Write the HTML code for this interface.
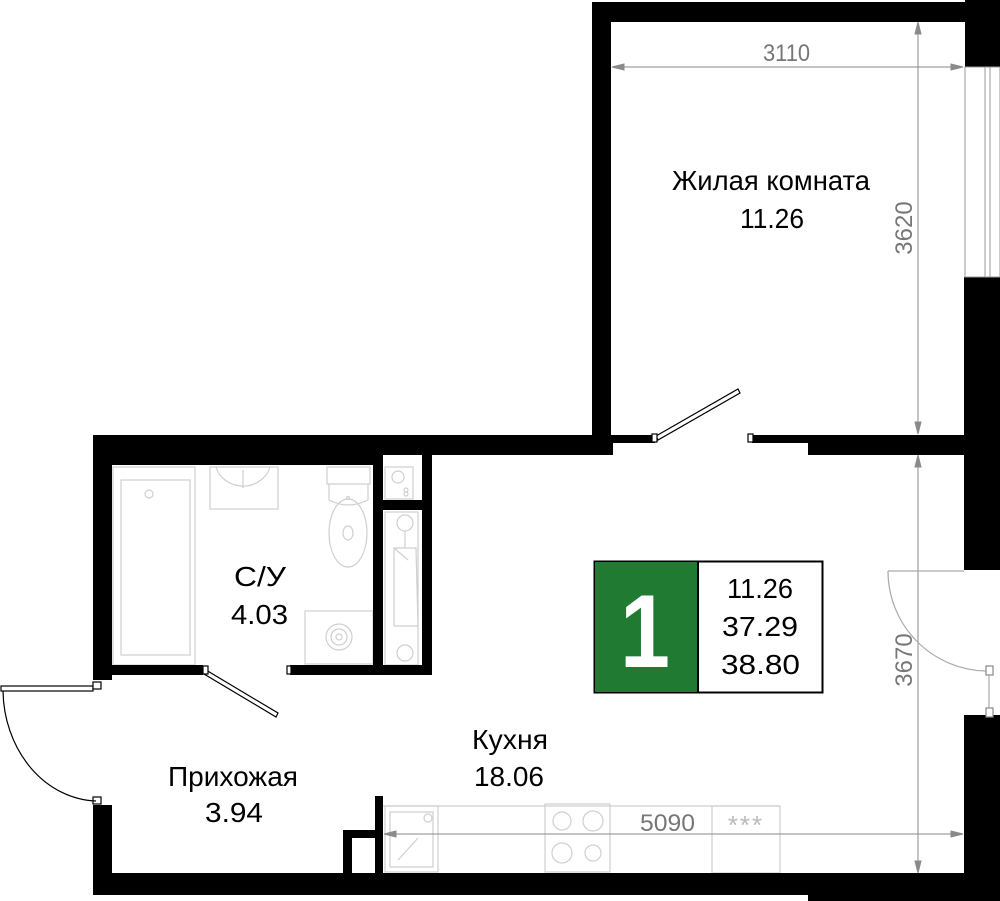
<!DOCTYPE html>
<html><head><meta charset="utf-8"><style>
html,body{margin:0;padding:0;background:#fff;}
svg{display:block;}
text{font-family:"Liberation Sans",sans-serif;}
</style></head><body>
<svg width="1000" height="901" viewBox="0 0 1000 901" xmlns="http://www.w3.org/2000/svg">
<rect width="1000" height="901" fill="#fff"/>
<!-- fixtures (light gray) -->
<g fill="none" stroke="#cfcfcf" stroke-width="1.2">
  <rect x="113" y="467" width="82" height="198"/>
  <rect x="121" y="480" width="69" height="175"/>
  <circle cx="149" cy="494" r="4"/>
  <rect x="210" y="467" width="68" height="42"/>
  <path d="M216 467 A28 26 0 0 0 270 467"/>
  <line x1="243" y1="470" x2="243" y2="488"/>
  <rect x="327" y="467" width="43" height="17"/>
  <path d="M329 484 L329 500 Q348 510 368 500 L368 484"/>
  <ellipse cx="348" cy="533" rx="19" ry="34"/>
  <circle cx="348" cy="498" r="1.5"/>
  <ellipse cx="348" cy="533" rx="5" ry="7"/>
  <rect x="305" y="611" width="68" height="53"/>
  <circle cx="339" cy="637" r="13"/><circle cx="339" cy="637" r="8"/><circle cx="339" cy="637" r="3"/>
  <rect x="385" y="467" width="28" height="32"/>
  <circle cx="398" cy="477" r="6"/><circle cx="406" cy="490" r="2"/><circle cx="406" cy="494" r="2"/>
  <rect x="385" y="512" width="33" height="153"/>
  <circle cx="405" cy="523" r="8"/><circle cx="405" cy="653" r="8"/>
  <line x1="405" y1="531" x2="405" y2="548"/>
  <polygon points="394,548 416,548 418,626 394,626"/>
  <line x1="394" y1="548" x2="408" y2="560"/>
  <rect x="385" y="806" width="53" height="66"/>
  <rect x="390" y="812" width="43" height="55"/>
  <circle cx="428" cy="818" r="4"/>
  <line x1="398" y1="860" x2="418" y2="838"/>
  <rect x="545" y="804" width="65" height="68"/>
  <circle cx="562" cy="821" r="9"/><circle cx="593" cy="821" r="10"/><circle cx="562" cy="853" r="10"/><circle cx="593" cy="853" r="8"/>
  <rect x="712" y="806" width="68" height="67"/>
  <line x1="383" y1="806" x2="780" y2="806"/>
</g>
<text x="746" y="834" text-anchor="middle" fill="#bbb" font-size="26" letter-spacing="2">***</text>
<!-- dimension lines -->
<g stroke="#8a8a8a" stroke-width="1" fill="#8a8a8a">
  <line x1="612" y1="67" x2="963" y2="67"/>
  <polygon points="612,67 624,64 624,70"/><polygon points="963,67 951,64 951,70"/>
  <line x1="918" y1="22" x2="918" y2="434"/>
  <polygon points="918,22 915,34 921,34"/><polygon points="918,434 915,422 921,422"/>
  <line x1="918" y1="455" x2="918" y2="873"/>
  <polygon points="918,455 915,467 921,467"/><polygon points="918,873 915,861 921,861"/>
  <line x1="384" y1="834" x2="963" y2="834"/>
  <polygon points="384,834 396,831 396,837"/><polygon points="963,834 951,831 951,837"/>
</g>
<g fill="#777" font-size="24">
  <text x="763" y="61" textLength="47" lengthAdjust="spacingAndGlyphs">3110</text>
  <text x="640" y="831" textLength="55" lengthAdjust="spacingAndGlyphs">5090</text>
  <text transform="translate(912,228) rotate(-90)" text-anchor="middle">3620</text>
  <text transform="translate(912,660) rotate(-90)" text-anchor="middle">3670</text>
</g>
<!-- walls -->
<g fill="#000">
  <rect x="592" y="2" width="373" height="20"/>
  <rect x="592" y="2" width="19" height="453"/>
  <rect x="965" y="0" width="35" height="67"/>
  <rect x="964" y="277" width="36" height="293"/>
  <rect x="964" y="715" width="36" height="186"/>
  <rect x="592" y="435" width="63" height="8"/>
  <rect x="752" y="435" width="56" height="8"/>
  <rect x="808" y="435" width="157" height="20"/>
  <rect x="93" y="435" width="520" height="20"/>
  <rect x="93" y="435" width="19" height="245"/>
  <rect x="93" y="455" width="280" height="10"/>
  <rect x="112" y="665" width="91" height="10"/>
  <rect x="290" y="665" width="142" height="10"/>
  <rect x="373" y="455" width="10" height="220"/>
  <rect x="422" y="455" width="10" height="220"/>
  <rect x="383" y="500" width="39" height="10"/>
  <rect x="93" y="805" width="19" height="90"/>
  <rect x="93" y="873" width="907" height="22"/>
  <rect x="808" y="873" width="192" height="28"/>
  <rect x="375" y="796" width="8" height="77"/>
  <rect x="343" y="830" width="40" height="8"/>
  <rect x="343" y="830" width="9" height="43"/>
</g>
<!-- window -->
<g fill="none" stroke="#999" stroke-width="1">
  <rect x="965" y="67" width="35" height="210"/>
  <line x1="985" y1="67" x2="985" y2="277"/>
  <line x1="990" y1="67" x2="990" y2="277"/>
</g>
<!-- doors -->
<g fill="#fff" stroke="#000" stroke-width="1.2">
  <polygon points="656,436 738,389 740,393 658,440"/>
  <rect x="652" y="434" width="5" height="8"/>
  <rect x="748" y="434" width="5" height="8"/>
  <polygon points="206,670 278,713 276,717 204,674"/>
  <rect x="203" y="666" width="5" height="8"/>
  <rect x="287" y="666" width="4" height="8"/>
  <rect x="1" y="686" width="92" height="5"/>
  <rect x="93" y="682" width="8" height="7"/>
  <rect x="93" y="797" width="8" height="7"/>
  <path d="M3 691 A96 112 0 0 0 96 801" fill="none"/>
  <path d="M888 571 A100 100 0 0 0 986 671" fill="none" stroke="#aaa"/>
  <line x1="888" y1="571" x2="964" y2="571" stroke="#aaa"/>
  <rect x="986" y="666" width="7" height="9" stroke="#888"/>
  <rect x="986" y="708" width="7" height="9" stroke="#888"/>
  <line x1="989" y1="675" x2="989" y2="708" stroke="#aaa"/>
</g>
<!-- info box -->
<rect x="594.5" y="561.5" width="228" height="131" fill="#fff" stroke="#000" stroke-width="2"/>
<rect x="595" y="562" width="103" height="130" fill="#217a31"/>
<line x1="698" y1="561" x2="698" y2="693" stroke="#000" stroke-width="2"/>
<text x="645" y="667" text-anchor="middle" fill="#fff" font-size="104" font-weight="bold" textLength="50" lengthAdjust="spacingAndGlyphs">1</text>
<g font-size="28" fill="#000">
  <text x="727" y="598" textLength="66" lengthAdjust="spacingAndGlyphs">11.26</text>
  <text x="722" y="636" textLength="76" lengthAdjust="spacingAndGlyphs">37.29</text>
  <text x="721" y="674" textLength="79" lengthAdjust="spacingAndGlyphs">38.80</text>
</g>
<!-- labels -->
<g font-size="28" fill="#000">
  <text x="672" y="190" textLength="198" lengthAdjust="spacingAndGlyphs">Жилая комната</text>
  <text x="740" y="228" textLength="64" lengthAdjust="spacingAndGlyphs">11.26</text>
  <text x="234" y="586" textLength="52" lengthAdjust="spacingAndGlyphs">С/У</text>
  <text x="231" y="624" textLength="57" lengthAdjust="spacingAndGlyphs">4.03</text>
  <text x="168" y="786" textLength="130" lengthAdjust="spacingAndGlyphs">Прихожая</text>
  <text x="205" y="822" textLength="58" lengthAdjust="spacingAndGlyphs">3.94</text>
  <text x="472" y="749" textLength="76" lengthAdjust="spacingAndGlyphs">Кухня</text>
  <text x="474" y="786" textLength="70" lengthAdjust="spacingAndGlyphs">18.06</text>
</g>
</svg>
</body></html>
